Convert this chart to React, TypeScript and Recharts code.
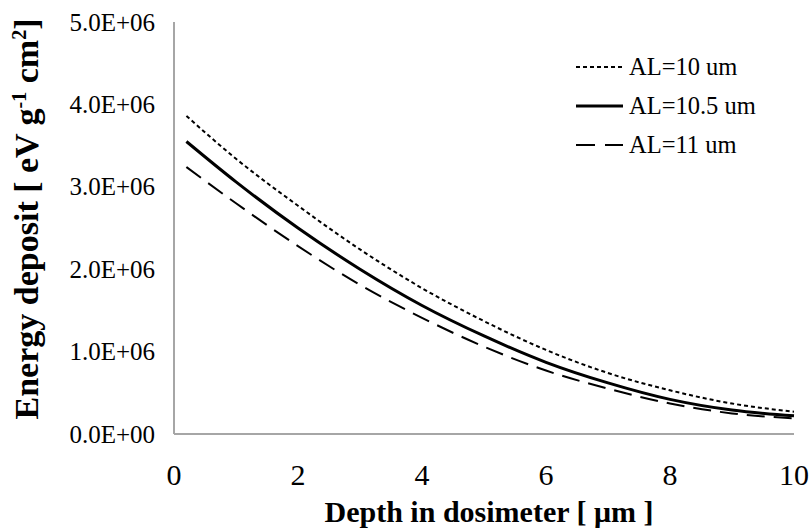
import { LineChart, Line, XAxis, YAxis } from "recharts"

// depth in dosimeter (um)
const DEPTH = [0.2, 1, 2, 3, 4, 5, 6, 7, 8, 9, 10]

// energy deposit (eV g-1 cm2)
const AL_10 = [3.86e6, 3.34e6, 2.77e6, 2.24e6, 1.77e6, 1.37e6, 1.02e6, 0.74e6, 0.53e6, 0.37e6, 0.27e6]
const AL_105 = [3.55e6, 3.06e6, 2.5e6, 2.0e6, 1.56e6, 1.19e6, 0.87e6, 0.62e6, 0.42e6, 0.29e6, 0.22e6]
const AL_11 = [3.24e6, 2.8e6, 2.28e6, 1.81e6, 1.41e6, 1.06e6, 0.77e6, 0.55e6, 0.37e6, 0.25e6, 0.19e6]

const X_TICKS = [0, 2, 4, 6, 8, 10]
const Y_TICKS = [0, 1e6, 2e6, 3e6, 4e6, 5e6]
const Y_TICK_LABELS = ["0.0E+00", "1.0E+06", "2.0E+06", "3.0E+06", "4.0E+06", "5.0E+06"]

const SERIES = [
  { key: "al10", name: "AL=10 um", width: 2, dash: "4 3", legendDash: "4 3" },
  { key: "al105", name: "AL=10.5 um", width: 3, dash: undefined, legendDash: undefined },
  { key: "al11", name: "AL=11 um", width: 2, dash: "18 9", legendDash: "19 10" },
]

const data = DEPTH.map((x, i) => ({ x, al10: AL_10[i], al105: AL_105[i], al11: AL_11[i] }))

const FONT = '"Liberation Serif", "Times New Roman", serif'

const XTick = ({ x, y, payload }: any) => (
  <text x={x} y={y + 43} textAnchor="middle" fontFamily={FONT} fontSize={30} fill="#000">
    {payload.value}
  </text>
)

const YTick = ({ x, y, payload, index }: any) => (
  <text x={x - 11} y={y} dy="0.34em" textAnchor="end" fontFamily={FONT} fontSize={25} fill="#000">
    {Y_TICK_LABELS[index] ?? payload.value}
  </text>
)

const YTitle = () => (
  <text
    transform="translate(38, 219) rotate(-90)"
    textAnchor="middle"
    fontFamily={FONT}
    fontSize={34}
    fontWeight="bold"
    fill="#000"
  >
    Energy deposit [ eV g
    <tspan dy={-12} fontSize={20}>-1</tspan>
    <tspan dy={12}> cm</tspan>
    <tspan dy={-12} fontSize={20}>2</tspan>
    <tspan dy={12}>]</tspan>
  </text>
)

const XTitle = () => (
  <text x={489} y={522} textAnchor="middle" fontFamily={FONT} fontSize={30} fontWeight="bold" fill="#000">
    Depth in dosimeter [ μm ]
  </text>
)

const LegendBox = () => (
  <svg width={240} height={120} style={{ position: "absolute", left: 570, top: 48 }}>
    {SERIES.map((s, i) => {
      const cy = 19 + i * 39
      return (
        <g key={s.key}>
          <line x1={6} x2={53} y1={cy} y2={cy} stroke="#000" strokeWidth={s.width} strokeDasharray={s.legendDash} />
          <text x={59} y={cy + 8} fontFamily={FONT} fontSize={24.5} fill="#000">
            {s.name}
          </text>
        </g>
      )
    })}
  </svg>
)

export default function App() {
  return (
    <div style={{ position: "absolute", left: 0, top: 0, width: 811, height: 529, background: "#fff" }}>
      <LineChart width={811} height={529} data={data} margin={{ top: 22, right: 17, bottom: 0, left: 0 }}>
        <XAxis
          type="number"
          dataKey="x"
          domain={[0, 10]}
          ticks={X_TICKS}
          tickLine={false}
          axisLine={{ stroke: "#a6a6a6", strokeWidth: 2 }}
          tick={<XTick />}
          height={95}
          label={{ content: <XTitle /> }}
        />
        <YAxis
          type="number"
          domain={[0, 5e6]}
          ticks={Y_TICKS}
          tickLine={false}
          axisLine={{ stroke: "#a6a6a6", strokeWidth: 2 }}
          tick={<YTick />}
          width={174}
          label={{ content: <YTitle /> }}
        />
        {SERIES.map((s) => (
          <Line
            key={s.key}
            type="monotone"
            dataKey={s.key}
            name={s.name}
            stroke="#000"
            strokeWidth={s.width}
            strokeDasharray={s.dash}
            dot={false}
            isAnimationActive={false}
          />
        ))}
      </LineChart>
      <LegendBox />
    </div>
  )
}
